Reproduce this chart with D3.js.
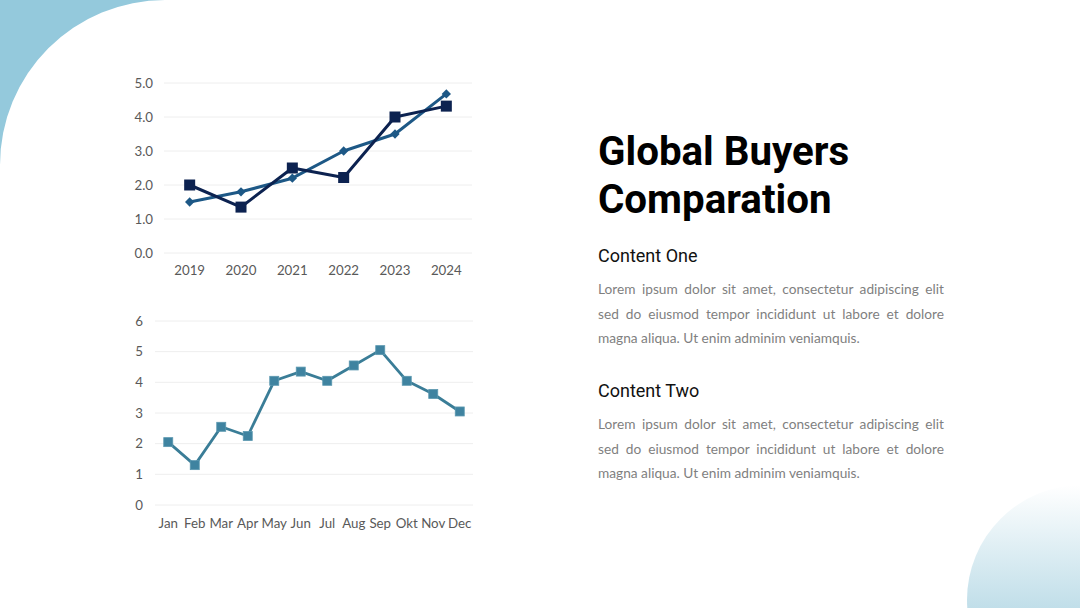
<!DOCTYPE html>
<html><head><meta charset="utf-8">
<script src="https://cdn.jsdelivr.net/npm/d3@7"></script>
<style>
html,body{margin:0;padding:0;background:#fff;}
#wrap{position:relative;width:1080px;height:608px;overflow:hidden;}
svg{position:absolute;left:0;top:0;}
.txt{position:absolute;font-family:Lato,sans-serif;}
.title{left:598px;top:128px;font-family:Roboto,sans-serif;font-weight:700;font-size:40.3px;line-height:48px;color:#000;white-space:nowrap;}
.head{left:598px;font-family:Roboto,sans-serif;font-size:18px;color:#111;white-space:nowrap;}
.body{left:598px;width:346px;font-size:13.7px;line-height:24.5px;color:#7f7f7f;}
.body .j{text-align:justify;text-align-last:justify;white-space:nowrap;}
</style></head>
<body><div id="wrap"><svg id="chart" width="1080" height="608"></svg>
<div class="txt title">Global Buyers<br>Comparation</div>
<div class="txt head" style="top:245px">Content One</div>
<div class="txt body" style="top:277px"><div class="j">Lorem ipsum dolor sit amet, consectetur adipiscing elit</div><div class="j">sed do eiusmod tempor incididunt ut labore et dolore</div><div>magna aliqua. Ut enim adminim veniamquis.</div></div>
<div class="txt head" style="top:380px">Content Two</div>
<div class="txt body" style="top:412px"><div class="j">Lorem ipsum dolor sit amet, consectetur adipiscing elit</div><div class="j">sed do eiusmod tempor incididunt ut labore et dolore</div><div>magna aliqua. Ut enim adminim veniamquis.</div></div>
</div>
<script>
const years = ["2019","2020","2021","2022","2023","2024"];
const seriesA = [2.0, 1.35, 2.5, 2.22, 4.0, 4.32];
const seriesB = [1.5, 1.8, 2.2, 3.0, 3.5, 4.68];
const topTicks = [0,1,2,3,4,5];
const months = ["Jan","Feb","Mar","Apr","May","Jun","Jul","Aug","Sep","Okt","Nov","Dec"];
const monthly = [2.05, 1.3, 2.55, 2.25, 4.05, 4.35, 4.05, 4.55, 5.05, 4.05, 3.62, 3.05];
const bottomTicks = [0,1,2,3,4,5,6];

const svg = d3.select("#chart");
const defs = svg.append("defs");
const grad = defs.append("linearGradient").attr("id","grad").attr("x1",0).attr("y1",0).attr("x2",0).attr("y2",1);
grad.append("stop").attr("offset","0%").attr("stop-color","#ffffff");
grad.append("stop").attr("offset","100%").attr("stop-color","#8ac2d6");

// decorative shapes
svg.append("path").attr("d","M0,0 L165,0 A165,165 0 0 0 0,165 Z").attr("fill","#94c9dc");
svg.append("circle").attr("cx",1082).attr("cy",600).attr("r",115).attr("fill","url(#grad)");

const axisFont = "Lato, sans-serif";
const axisColor = "#595959";

// ---- top chart
const x1 = d3.scaleBand().domain(years).range([164,472]);
const y1 = d3.scaleLinear().domain([0,5]).range([253,83]);
const gTop = svg.append("g");
gTop.selectAll("line.grid").data(topTicks).join("line")
  .attr("x1",164).attr("x2",472).attr("y1",d=>y1(d)).attr("y2",d=>y1(d))
  .attr("stroke","#eeeeee").attr("stroke-width",1);
gTop.selectAll("text.yt").data(topTicks).join("text")
  .attr("x",153).attr("y",d=>y1(d)).attr("dy","0.35em").attr("text-anchor","end")
  .attr("font-family",axisFont).attr("font-size",13.3).attr("fill",axisColor)
  .text(d=>d3.format(".1f")(d));
gTop.selectAll("text.xt").data(years).join("text")
  .attr("x",d=>x1(d)+x1.bandwidth()/2).attr("y",270).attr("dy","0.35em").attr("text-anchor","middle")
  .attr("font-family",axisFont).attr("font-size",13.3).attr("fill",axisColor).text(d=>d);
const cx1 = (d,i)=>x1(years[i])+x1.bandwidth()/2;
const line1 = d3.line().x((d,i)=>cx1(d,i)).y(d=>y1(d));
gTop.append("path").attr("d",line1(seriesB)).attr("fill","none").attr("stroke","#1d5886").attr("stroke-width",3).attr("stroke-linejoin","round");
gTop.append("path").attr("d",line1(seriesA)).attr("fill","none").attr("stroke","#0c2250").attr("stroke-width",3).attr("stroke-linejoin","round");
gTop.selectAll("path.dia").data(seriesB).join("path")
  .attr("d",d3.symbol(d3.symbolDiamond2,55)())
  .attr("transform",(d,i)=>`translate(${cx1(d,i)},${y1(d)})`).attr("fill","#1d5886");
gTop.selectAll("rect.sq").data(seriesA).join("rect")
  .attr("x",(d,i)=>cx1(d,i)-5.5).attr("y",d=>y1(d)-5.5).attr("width",11).attr("height",11).attr("fill","#0c2250");

// ---- bottom chart
const x2 = d3.scaleBand().domain(months).range([155,473]);
const y2 = d3.scaleLinear().domain([0,6]).range([505,321]);
const gBot = svg.append("g");
gBot.selectAll("line.grid").data(bottomTicks).join("line")
  .attr("x1",155).attr("x2",473).attr("y1",d=>y2(d)).attr("y2",d=>y2(d))
  .attr("stroke","#eeeeee").attr("stroke-width",1);
gBot.selectAll("text.yt").data(bottomTicks).join("text")
  .attr("x",143).attr("y",d=>y2(d)).attr("dy","0.35em").attr("text-anchor","end")
  .attr("font-family",axisFont).attr("font-size",13.3).attr("fill",axisColor).text(d=>d);
gBot.selectAll("text.xt").data(months).join("text")
  .attr("x",d=>x2(d)+x2.bandwidth()/2).attr("y",523).attr("dy","0.35em").attr("text-anchor","middle")
  .attr("font-family",axisFont).attr("font-size",13.3).attr("fill",axisColor).text(d=>d);
const cx2 = (d,i)=>x2(months[i])+x2.bandwidth()/2;
const line2 = d3.line().x((d,i)=>cx2(d,i)).y(d=>y2(d));
gBot.append("path").attr("d",line2(monthly)).attr("fill","none").attr("stroke","#3a7d97").attr("stroke-width",2.8).attr("stroke-linejoin","round");
gBot.selectAll("rect.sq").data(monthly).join("rect")
  .attr("x",(d,i)=>cx2(d,i)-4.5).attr("y",d=>y2(d)-4.5).attr("width",9).attr("height",9)
  .attr("fill","#3f83a0").attr("stroke","#5b98b0").attr("stroke-width",0.8);
</script></body></html>
